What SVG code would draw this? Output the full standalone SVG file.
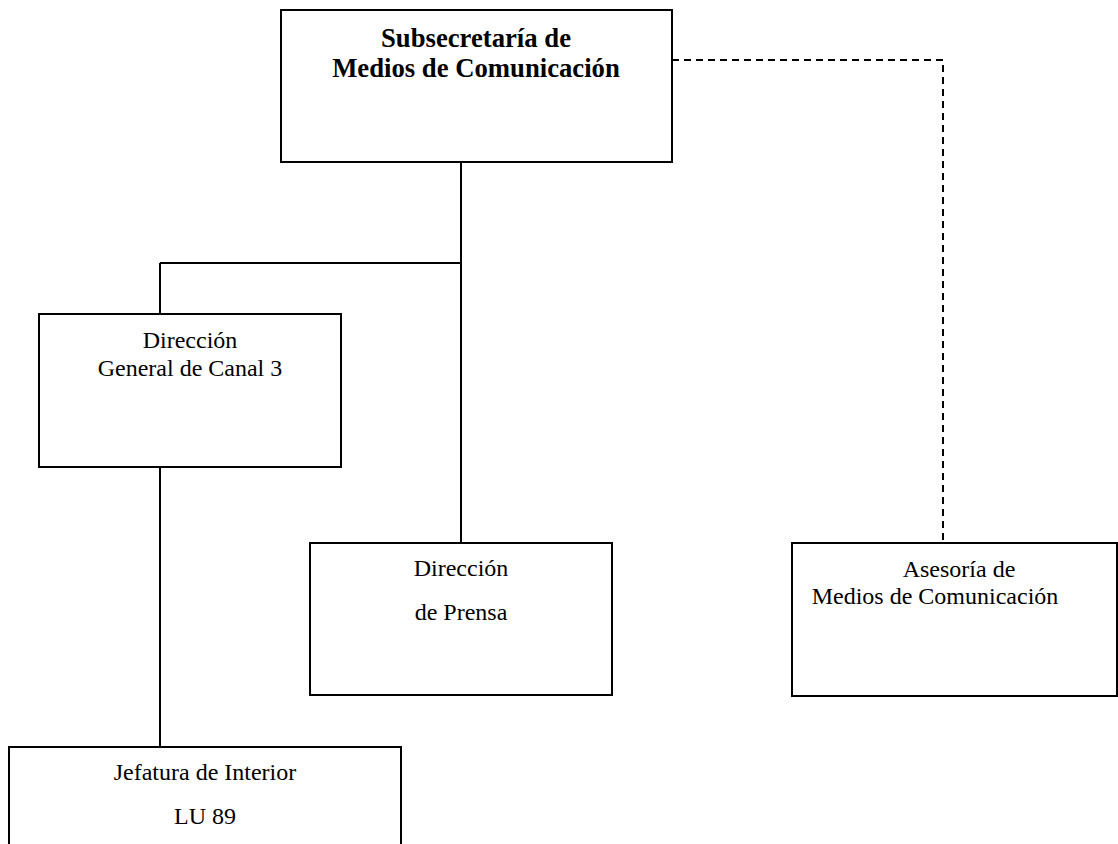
<svg xmlns="http://www.w3.org/2000/svg" width="1118" height="844" viewBox="0 0 1118 844">
<style>
.box{fill:#fff;stroke:#000;stroke-width:2}
.t{font-family:"Liberation Serif","Times New Roman",serif;font-size:24px;fill:#000;text-anchor:middle}
.b{font-weight:bold;font-size:26.7px}
.ln{fill:none;stroke:#000;stroke-width:2}
.dash{stroke-dasharray:7 5}
</style>
<rect width="1118" height="844" fill="#fff"/>
<g id="connectors">
<path class="ln" d="M461 162 V543"/>
<path class="ln" d="M160 263 H461"/>
<path class="ln" d="M160 263 V314"/>
<path class="ln" d="M160 467 V747"/>
<path class="ln dash" d="M672 60 H943 V543"/>
</g>
<g id="subsecretaria">
<rect class="box" x="281" y="10" width="391" height="152"/>
<text class="t b" x="476" y="47">Subsecretaría de</text>
<text class="t b" x="476" y="77">Medios de Comunicación</text>
</g>
<g id="canal3">
<rect class="box" x="39" y="314" width="302" height="153"/>
<text class="t" x="190" y="348">Dirección</text>
<text class="t" x="190" y="376">General de Canal 3</text>
</g>
<g id="prensa">
<rect class="box" x="310" y="543" width="302" height="152"/>
<text class="t" x="461" y="576">Dirección</text>
<text class="t" x="461" y="620">de Prensa</text>
</g>
<g id="asesoria">
<rect class="box" x="792" y="543" width="325" height="153"/>
<text class="t" x="959" y="577">Asesoría de</text>
<text class="t" x="935" y="604">Medios de Comunicación</text>
</g>
<g id="jefatura">
<rect class="box" x="9" y="747" width="392" height="120"/>
<text class="t" x="205" y="780">Jefatura de Interior</text>
<text class="t" x="205" y="824">LU 89</text>
</g>
</svg>
